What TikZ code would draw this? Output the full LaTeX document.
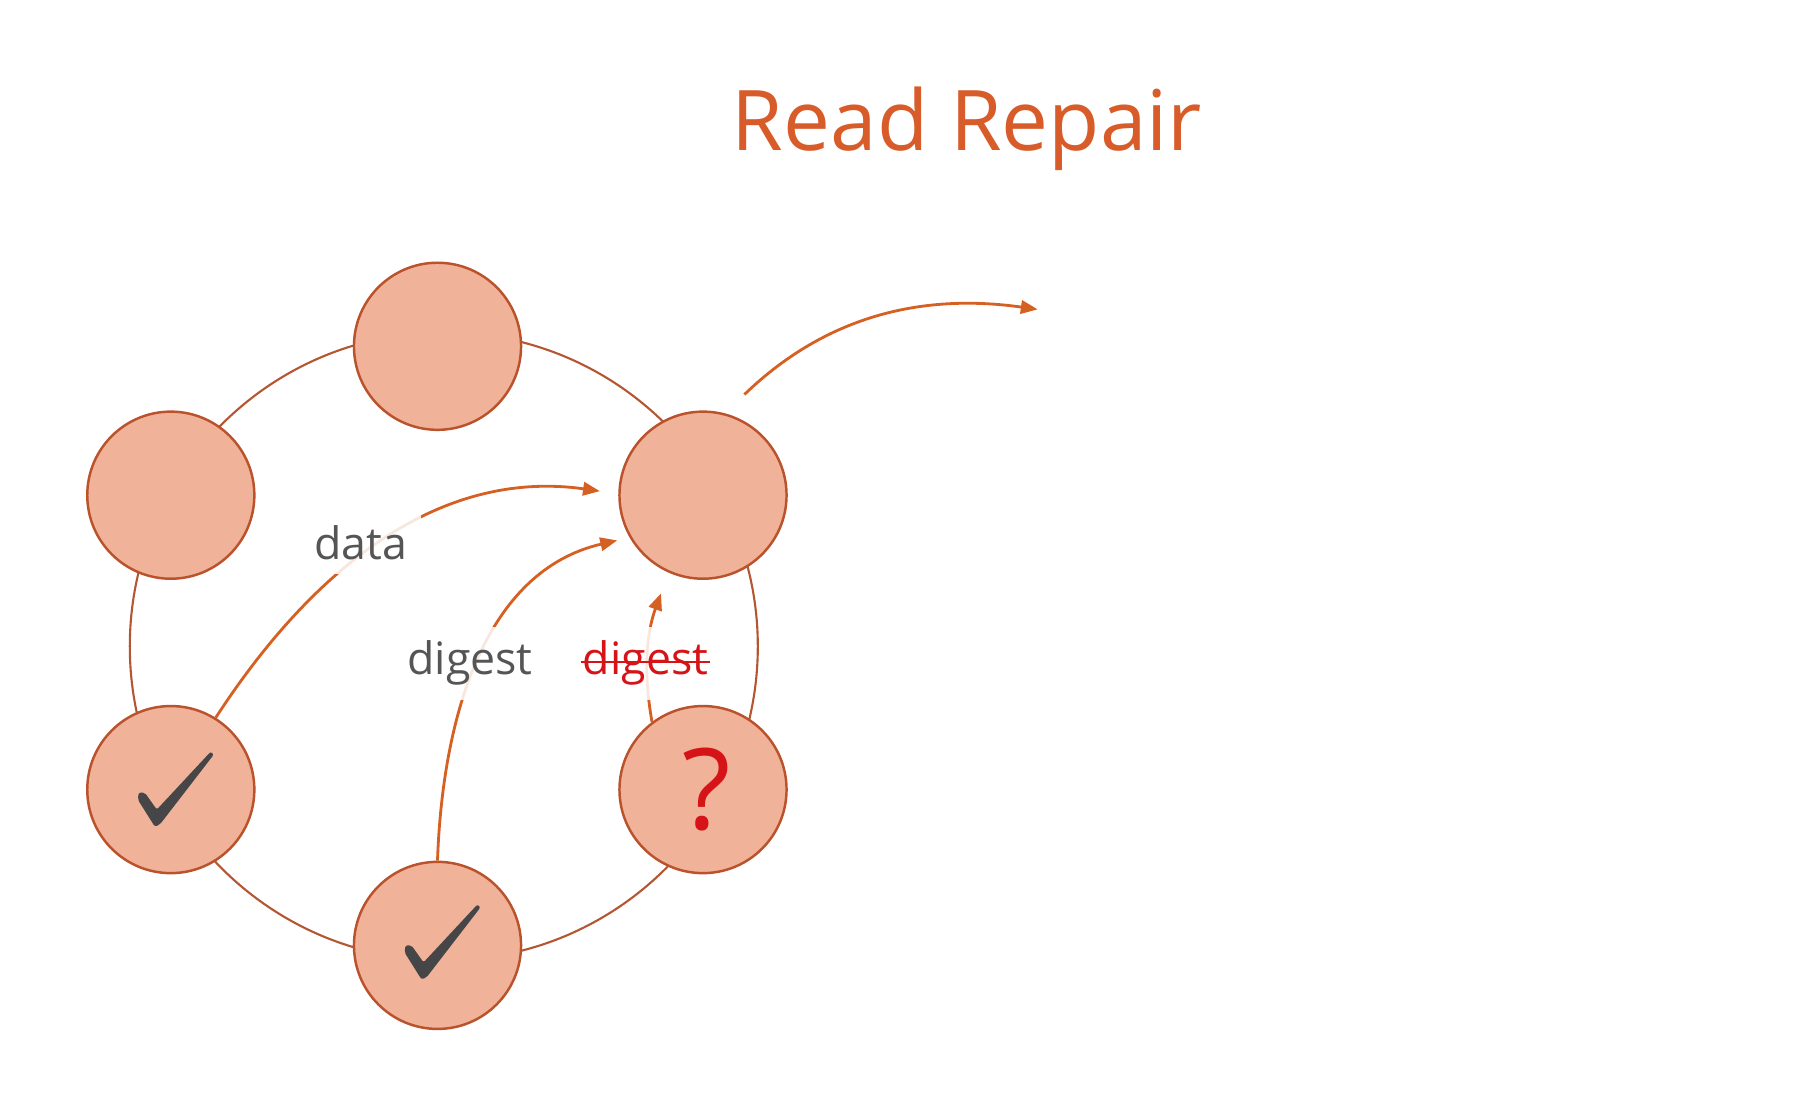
\documentclass[tikz,border=0pt]{standalone}
\usepackage{fontspec}
\setmainfont{Open Sans}
\usetikzlibrary{arrows.meta}

\definecolor{titleorange}{RGB}{216,92,42}
\definecolor{peerfill}{RGB}{240,178,152}
\definecolor{peerline}{RGB}{186,82,44}
\definecolor{ringline}{RGB}{180,86,50}
\definecolor{flowline}{RGB}{214,96,34}
\definecolor{labelgray}{RGB}{85,85,85}
\definecolor{alertred}{RGB}{214,20,24}
\definecolor{checkgray}{RGB}{70,70,72}

\begin{document}
\begin{tikzpicture}[x=0.01cm,y=0.01cm,
  ring/.style={draw=ringline,line width=0.6pt},
  peer/.style={circle,draw=peerline,fill=peerfill,line width=0.7pt,
    minimum size=1.67cm,inner sep=0pt},
  flow/.style={draw=flowline,line width=0.8pt,
    -{Triangle[length=4.8pt,width=3.8pt]}},
  lbl/.style={anchor=base,font=\fontsize{12.7}{14}\selectfont,
    text=labelgray,fill=white,fill opacity=0.85,text opacity=1,inner sep=4pt},
  strike/.style={draw=alertred,line width=0.65pt},
  tickmark/.pic={
    \fill[checkgray,rounded corners=0.6pt]
      (-19,-37) -- (-36,-10) -- (-35,-3) -- (-29,-3) -- (-17,-20)
      -- (37,38) -- (40,35) -- (-14,-35) -- cycle;
  },
]
\useasboundingbox (0,0) rectangle (1810,1098);

% title
\node[anchor=base,text=titleorange,font=\fontsize{23.8}{28}\selectfont]
  (title) at (967,947) {Read Repair};

% ring of replicas
\coordinate (ringc) at (443.8,451.6);
\draw[ring] (ringc) circle[radius=314];

\node[peer] (top) at (437.5,751.7) {};
\node[peer] (lft) at (170.8,602.8) {};
\node[peer] (rt)  at (703,602.8) {};
\node[peer] (bl)  at (170.8,308.4) {};
\node[peer] (bot) at (437.5,152.6) {};
\node[peer,text=alertred,font=\fontsize{32}{32}\selectfont] (br) at (703,308.4)
  {\hspace*{2pt}?};

% replicas that answered consistently
\pic at ([xshift=0.03cm]bl.center) {tickmark};
\pic at ([xshift=0.03cm,yshift=0.03cm]bot.center) {tickmark};

% responses to the coordinator
\draw[flow,shorten >=0.185cm] (bl.58) to[out=57,in=172] (rt.179);
\draw[flow,shorten >=0.127cm] (bot.north) to[out=88,in=193] (rt.210);
\draw[flow,shorten >=0.22cm] (br.127) to[out=100,in=250] (rt.246);

% reply to the client
\coordinate (client) at (1037.7,788.6);
\draw[flow,shorten <=0.27cm] (rt.75) to[out=44,in=172] (client);

% labels
\node[lbl] (datalbl) at (360.5,538) {data};
\node[lbl] (digestlbl) at (470,423) {digest};
\node[lbl,text=alertred] (badlbl) at (645.5,423) {digest};
\draw[strike] ([xshift=3.6pt,yshift=3.6pt]badlbl.base west)
  -- ([xshift=-3.6pt,yshift=3.6pt]badlbl.base east);
\end{tikzpicture}
\end{document}
